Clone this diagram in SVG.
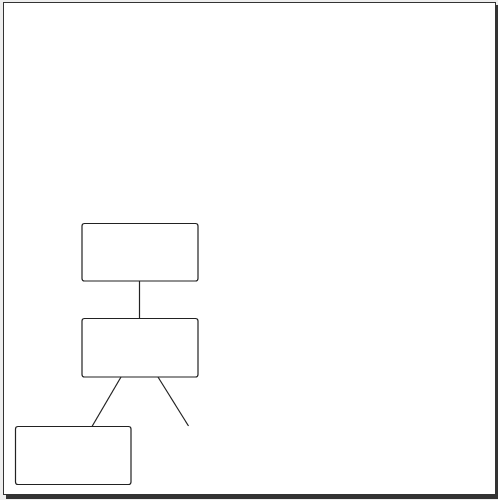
<svg xmlns="http://www.w3.org/2000/svg" width="498" height="500" viewBox="0 0 498 500">
<style>
.node{fill:#ffffff;stroke:#222222;stroke-width:1.2}
.edge{stroke:#222222;stroke-width:1.2;fill:none}
</style>
<rect x="0" y="0" width="498" height="500" fill="#eeeeee"/>
<rect x="6" y="5" width="492" height="494" fill="#333333"/>
<rect x="3.5" y="2.5" width="492" height="492" fill="#ffffff" stroke="#333333" stroke-width="1"/>
<g id="connectors">
<line class="edge" x1="139.5" y1="281" x2="139.5" y2="318.5"/>
<line class="edge" x1="121" y1="377" x2="92" y2="426.5"/>
<line class="edge" x1="158" y1="377" x2="188.5" y2="426"/>
</g>
<g id="node1"><rect class="node" x="82" y="223.5" width="116" height="57.5" rx="2.5"/></g>
<g id="node2"><rect class="node" x="82" y="318.5" width="116" height="58.5" rx="2.5"/></g>
<g id="node3"><rect class="node" x="15.5" y="426.5" width="115.5" height="58" rx="2.5"/></g>
</svg>
